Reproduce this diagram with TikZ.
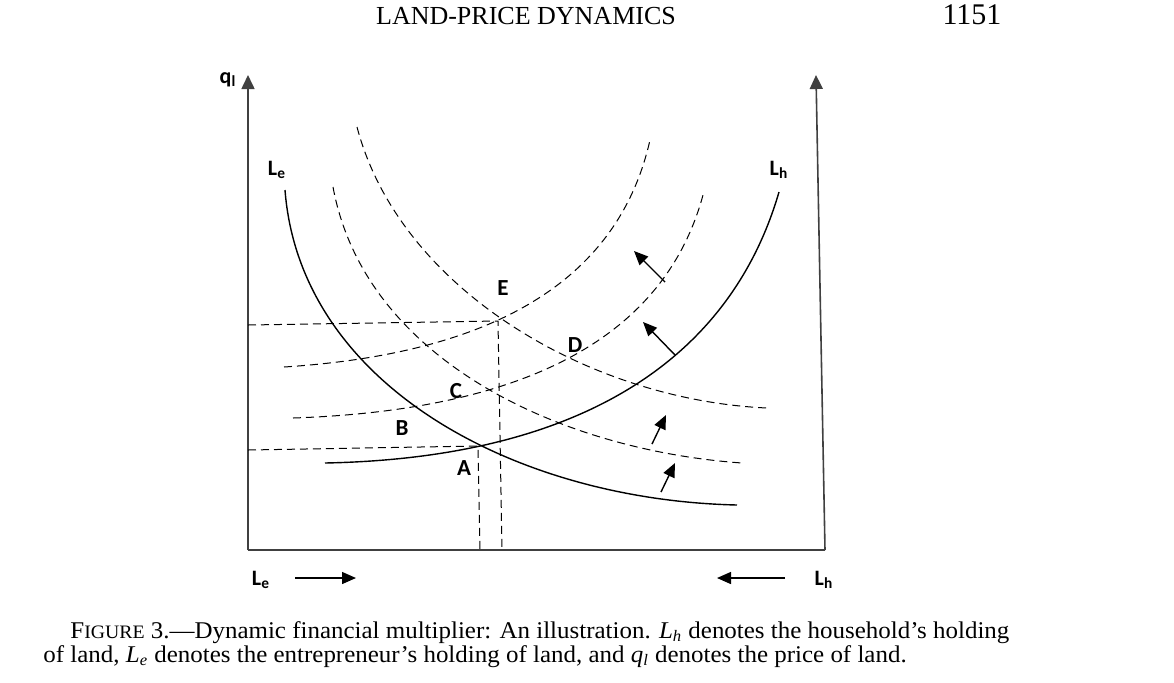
\documentclass[tikz,border=0pt]{standalone}
\usepackage{fontspec}
\setmainfont{Liberation Serif}
\newfontfamily\lblfont{Carlito}
\newfontfamily\capfont[FakeStretch=1.04]{Liberation Serif}
\usetikzlibrary{arrows.meta}
\tikzset{
  axis/.style={line width=0.8pt, draw=black!75, -{Triangle[length=7pt,width=6.5pt]}},
  curve/.style={line width=0.7pt},
  dashcurve/.style={line width=0.5pt, dash pattern=on 4pt off 2.5pt},
  shiftarrow/.style={line width=0.7pt, -{Triangle[length=7pt,width=6pt]}},
  lbl/.style={font=\lblfont\bfseries\fontsize{11}{11}\selectfont},
  pt/.style={font=\lblfont\bfseries\fontsize{11.5}{11.5}\selectfont},
  caption/.style={anchor=base west, inner sep=0pt, font=\capfont\fontsize{12}{13}\selectfont},
}
\begin{document}
\begin{tikzpicture}[x=0.5pt,y=-0.5pt]
    \useasboundingbox (0,0) rectangle (1174,682);
    %Header
    \node[anchor=base, font=\fontsize{13}{15}\selectfont] (title) at (526,24) {LAND-PRICE DYNAMICS};
    \node[anchor=base, font=\fontsize{15}{17}\selectfont] (page) at (972,24) {1151};
    %Axes
    \coordinate (orig) at (248,550);
    \coordinate (corner) at (825,550);
    \draw[axis] (orig) -- (248,75);
    \draw[axis] (corner) -- (816,75);
    \draw[line width=0.8pt, draw=black!75] (orig) -- (corner);
    \node[lbl] (ql) at (228,80) {q\textsubscript{l}};
    \node[lbl] (le) at (277,170) {L\textsubscript{e}};
    \node[lbl] (lh) at (779,170) {L\textsubscript{h}};
    %Directions
    \node[lbl] (leaxis) at (261,580) {L\textsubscript{e}};
    \node[lbl] (lhaxis) at (824,580) {L\textsubscript{h}};
    \draw[shiftarrow] (295,578) -- (356,578);
    \draw[shiftarrow] (785,578) -- (717,578);
    %Solid curves
    \draw[curve] (285,190) .. controls (300,385) and (515,500) .. (737,505);
    \draw[curve] (325,463) .. controls (580,458) and (730,360) .. (779,192);
    %Dashed curves
    \draw[dashcurve] (333,187) .. controls (365,360) and (560,450) .. (742,463);
    \draw[dashcurve] (357,127) .. controls (400,290) and (590,400) .. (767,408);
    \draw[dashcurve] (293,418) .. controls (530,410) and (665,335) .. (703,195);
    \draw[dashcurve] (284,367) .. controls (470,355) and (615,295) .. (650,140);
    %Equilibria
    \coordinate (ptA) at (478,446);
    \coordinate (ptE) at (498,321);
    \draw[dashcurve] (248,450) -- (ptA) -- (480,550);
    \draw[dashcurve] (248,325) -- (ptE) -- (502,550);
    \node[pt] (A) at (464,468) {A};
    \node[pt] (B) at (402,428) {B};
    \node[pt] (C) at (456,391) {C};
    \node[pt] (D) at (575,345) {D};
    \node[pt] (E) at (503,288) {E};
    %Shifts
    \draw[shiftarrow] (675,355) -- (643,322);
    \draw[shiftarrow] (665,282) -- (634,251);
    \draw[shiftarrow] (652,444) -- (666,415);
    \draw[shiftarrow] (661,492) -- (675,463);
    %Caption
    \node[caption] (cap1) at (70,638)
      {F{\fontsize{9.5}{10}\selectfont IGURE} 3.—Dynamic financial multiplier: An illustration. \textit{L}\textsubscript{\textit{h}} denotes the household’s holding};
    \node[caption] (cap2) at (43,662)
      {of land, \textit{L}\textsubscript{\textit{e}} denotes the entrepreneur’s holding of land, and \textit{q}\textsubscript{\textit{l}} denotes the price of land.};
\end{tikzpicture}
\end{document}
